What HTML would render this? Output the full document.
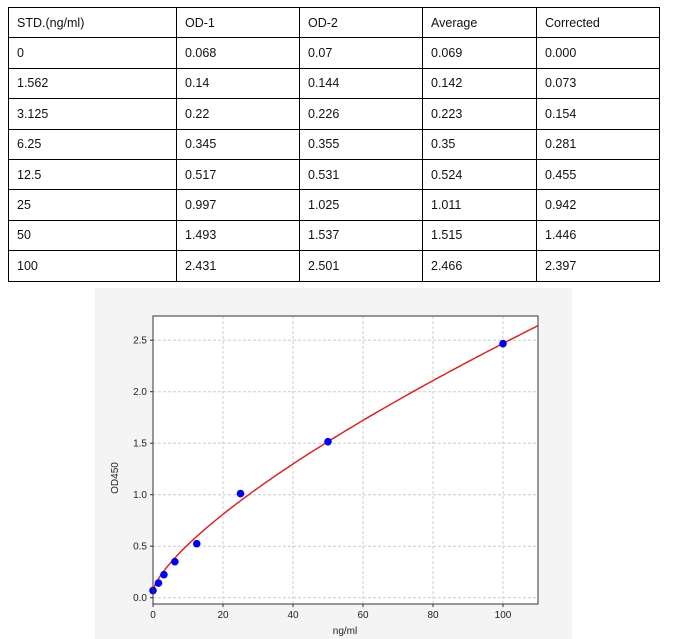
<!DOCTYPE html>
<html><head><style>
body{margin:0;width:680px;height:639px;background:#fff;position:relative;overflow:hidden;font-family:"Liberation Sans",sans-serif}
table{position:absolute;left:8px;top:7px;border-collapse:collapse;font-size:12.5px;color:#111}
td{border:1px solid #000;height:30.4px;padding:0 0 0 8px;box-sizing:border-box;vertical-align:middle}
</style></head><body>
<table>
<colgroup><col style="width:168px"><col style="width:123px"><col style="width:123px"><col style="width:114px"><col style="width:123px"></colgroup>
<tr><td>STD.(ng/ml)</td><td>OD-1</td><td>OD-2</td><td>Average</td><td>Corrected</td></tr>
<tr><td>0</td><td>0.068</td><td>0.07</td><td>0.069</td><td>0.000</td></tr>
<tr><td>1.562</td><td>0.14</td><td>0.144</td><td>0.142</td><td>0.073</td></tr>
<tr><td>3.125</td><td>0.22</td><td>0.226</td><td>0.223</td><td>0.154</td></tr>
<tr><td>6.25</td><td>0.345</td><td>0.355</td><td>0.35</td><td>0.281</td></tr>
<tr><td>12.5</td><td>0.517</td><td>0.531</td><td>0.524</td><td>0.455</td></tr>
<tr><td>25</td><td>0.997</td><td>1.025</td><td>1.011</td><td>0.942</td></tr>
<tr><td>50</td><td>1.493</td><td>1.537</td><td>1.515</td><td>1.446</td></tr>
<tr><td>100</td><td>2.431</td><td>2.501</td><td>2.466</td><td>2.397</td></tr>
</table>
<svg id="s" width="680" height="639" style="position:absolute;left:0;top:0" font-family="Liberation Sans, sans-serif">
<rect x="95" y="288" width="477" height="351" fill="#f4f4f4"/>
<rect x="153" y="316" width="385" height="288" fill="#fff"/>
<g id="g"></g>
<rect x="153" y="316" width="385" height="288" fill="none" stroke="#333" stroke-width="1"/>
<text x="118" y="478" font-size="10" fill="#222" transform="rotate(-90 118 478)" text-anchor="middle">OD450</text>
<text x="345" y="634" font-size="10" fill="#222" text-anchor="middle">ng/ml</text>
</svg>
<script>
var g=document.getElementById('g'),h='';
function X(v){return 153+v*3.5}function Y(v){return 597.7-v*103}
for(var i=0;i<=100;i+=20){var x=X(i);h+='<line x1="'+x+'" y1="316" x2="'+x+'" y2="604" stroke="#ccc" stroke-dasharray="3,2"/><line x1="'+x+'" y1="604" x2="'+x+'" y2="607" stroke="#333"/><text x="'+x+'" y="618" font-size="10" fill="#222" text-anchor="middle">'+i+'</text>';}
for(var j=0;j<=5;j++){var v=j*0.5,y=Y(v);h+='<line x1="153" y1="'+y+'" x2="538" y2="'+y+'" stroke="#ccc" stroke-dasharray="3,2"/><line x1="150" y1="'+y+'" x2="153" y2="'+y+'" stroke="#333"/><text x="147" y="'+(y+3.5)+'" font-size="10" fill="#222" text-anchor="end">'+v.toFixed(1)+'</text>';}
var p='M';for(var k=0;k<=220;k++){var xv=k*0.5;var yv=0.069+0.0832*Math.pow(xv,0.73);p+=X(xv).toFixed(1)+','+Y(yv).toFixed(1)+' ';}
h+='<path d="'+p+'" fill="none" stroke="#d62728" stroke-width="1.5"/>';
var d=[[0,0.069],[1.562,0.142],[3.125,0.223],[6.25,0.35],[12.5,0.524],[25,1.011],[50,1.515],[100,2.466]];
d.forEach(function(q){h+='<circle cx="'+X(q[0])+'" cy="'+Y(q[1])+'" r="3.8" fill="#0000ee"/>';});
g.innerHTML=h;
</script>
</body></html>
